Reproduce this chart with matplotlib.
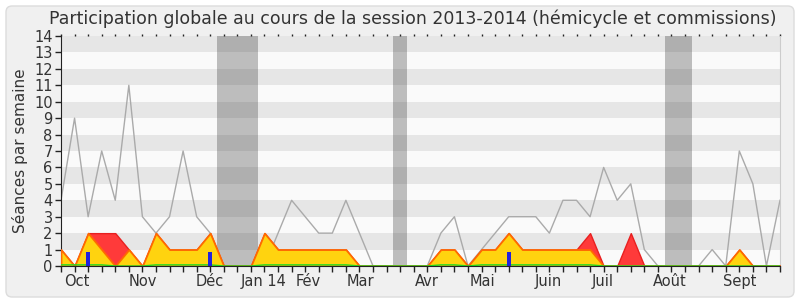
import numpy as np
import matplotlib
matplotlib.use("Agg")
import matplotlib.pyplot as plt
from matplotlib.patches import FancyBboxPatch

# one value per week of the session (week 0 .. 53)
weeks = np.arange(54)
seances = [4, 9, 3, 7, 4, 11, 3, 2, 3, 7, 3, 2, None, None, None, 0, 2, 4, 3, 2,
           2, 4, 2, 0, 0, None, 0, 0, 2, 3, 0, 1, 2, 3, 3, 3, 2, 4, 4, 3,
           6, 4, 5, 1, 0, None, None, 0, 1, 0, 7, 5, 0, 4]
total = [1, 0, 2, 2, 2, 1, 0, 2, 1, 1, 1, 2, 0, 0, 0, 2, 1, 1, 1, 1,
         1, 1, 0, 0, 0, 0, 0, 0, 1, 1, 0, 1, 1, 2, 1, 1, 1, 1, 1, 2,
         0, 0, 2, 0, 0, 0, 0, 0, 0, 0, 1, 0, 0, 0]
hemicycle = [1, 0, 2, 1, 0, 1, 0, 2, 1, 1, 1, 2, 0, 0, 0, 2, 1, 1, 1, 1,
             1, 1, 0, 0, 0, 0, 0, 0, 1, 1, 0, 1, 1, 2, 1, 1, 1, 1, 1, 1,
             0, 0, 0, 0, 0, 0, 0, 0, 0, 0, 1, 0, 0, 0]
green = [0.07, 0.07, 0.07, 0.07, 0, 0, 0, 0.07, 0.07, 0.07, 0.07, 0.07, 0, 0, 0, 0.07, 0.07, 0.07, 0.07, 0.07,
         0.07, 0.07, 0, 0, 0, 0, 0, 0, 0.07, 0.07, 0, 0.07, 0.07, 0.07, 0.07, 0.07, 0.07, 0.07, 0.07, 0.07,
         0, 0, 0, 0, 0, 0, 0, 0, 0, 0, 0, 0, 0, 0]
bar_weeks = [2, 11, 33]
bar_heights = [0.85, 0.85, 0.85]
vacances = [(11.5, 14.5), (24.5, 25.5), (44.5, 46.5)]

month_pos = [1.15, 6.0, 11.0, 14.9, 18.2, 22.1, 27.0, 31.1, 35.9, 39.9, 44.9, 50.0]
month_labels = ['Oct', 'Nov', 'Déc', 'Jan 14', 'Fév', 'Mar', 'Avr', 'Mai', 'Juin', 'Juil', 'Août', 'Sept']

seances = np.array([np.nan if v is None else v for v in seances], dtype=float)

fig = plt.figure(figsize=(8, 3), dpi=100)
fig.patch.set_facecolor('white')
fig.patches.append(FancyBboxPatch((6, 3), 788, 291, boxstyle='round,pad=0,rounding_size=6',
                                  transform=None, facecolor='#f0f0f0', edgecolor='#dcdcdc',
                                  linewidth=1, figure=fig, zorder=-10))

ax = fig.add_axes([61/800, 34/300, 719/800, 230/300])
ax.set_facecolor('#fafafa')
for k in range(1, 14, 2):
    ax.axhspan(k, k + 1, color='#e6e6e6', lw=0, zorder=0)
for a, b in vacances:
    ax.axvspan(a, b, color='#323232', alpha=0.3, lw=0, zorder=1)

ax.plot(weeks, seances, color='#aaaaaa', lw=1, zorder=2)
ax.fill_between(weeks, total, color='#ff3a3a', edgecolor='#e82020', lw=1, zorder=3)
ax.fill_between(weeks, hemicycle, color='#ffd30f', edgecolor='#ff6a00', lw=1.3, zorder=4)
ax.plot(weeks, green, color='#22dd22', lw=1, zorder=5)
ax.bar(bar_weeks, bar_heights, width=0.3, color='#2222dd', zorder=6)

ax.set_xlim(0, 53)
ax.set_ylim(0, 14)
ax.set_yticks(range(15))
ax.xaxis.remove_overlapping_locs = False
ax.set_xticks(weeks)
ax.set_xticklabels([])
ax.set_xticks(month_pos, minor=True)
ax.set_xticklabels(month_labels, minor=True)
ax.tick_params(axis='x', which='major', length=4, width=1, color='#222222', direction='out')
ax.tick_params(axis='x', which='minor', length=0, pad=6, labelsize=10.5, labelcolor='#333333')
ax.tick_params(axis='y', length=4, width=1, color='#222222', labelsize=10.5, labelcolor='#333333', pad=2)

top = ax.secondary_xaxis('top')
top.set_xticks(weeks)
top.set_xticklabels([])
top.tick_params(length=1.5, width=1, color='#222222', direction='out')
top.spines['top'].set_visible(False)

ax.spines['top'].set_visible(False)
ax.spines['right'].set_color('#cccccc')
ax.spines['left'].set_color('#222222')
ax.spines['bottom'].set_color('#222222')
ax.spines['bottom'].set_zorder(7)

ax.set_ylabel('Séances par semaine', fontsize=11, color='#333333', labelpad=4)
fig.text(413/800, 1 - 19/300,
         'Participation globale au cours de la session 2013-2014 (hémicycle et commissions)',
         ha='center', va='center', fontsize=12.5, color='#333333')

fig.savefig('out.png', dpi=100)
